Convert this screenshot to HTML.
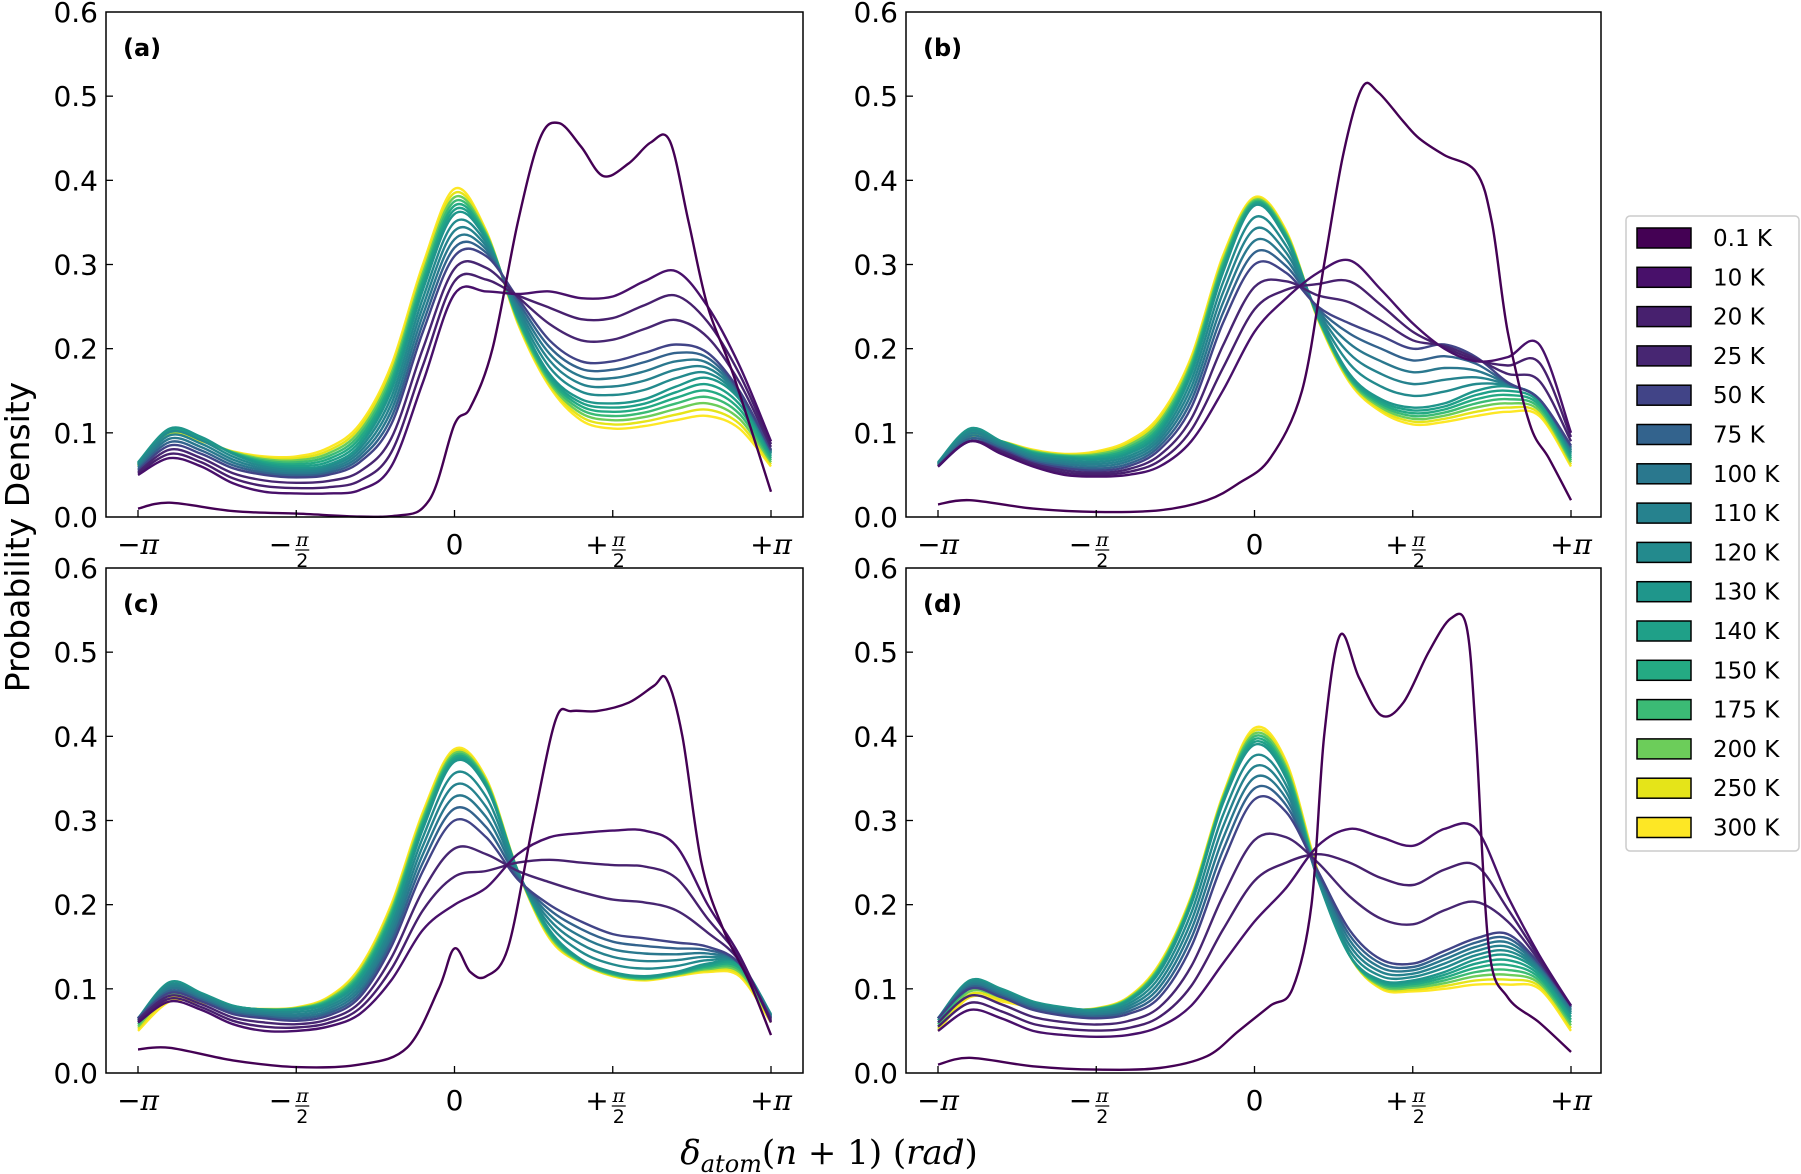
<!DOCTYPE html>
<html><head><meta charset="utf-8"><style>
html,body{margin:0;padding:0;background:#fff;}
svg{display:block;font-family:"DejaVu Sans","Liberation Sans",sans-serif;}
</style></head><body>
<svg id="s" width="1801" height="1174" viewBox="0 0 1801 1174" xmlns="http://www.w3.org/2000/svg">
<text x="0" y="0" transform="translate(29,537) rotate(-90)" font-size="33" text-anchor="middle">Probability Density</text>
<text x="829" y="1164" font-size="34" text-anchor="middle" font-family="DejaVu Serif, Liberation Serif, serif" font-style="italic">δ<tspan font-size="24" dy="8">atom</tspan><tspan dy="-8" font-style="normal">(</tspan>n<tspan font-style="normal"> + 1) (</tspan>rad<tspan font-style="normal">)</tspan></text>
<g id="legend">
<rect x="1626" y="216" width="173" height="635" rx="4" fill="#fff" stroke="#ccc" stroke-width="1.5"/>
</g>
</svg>
<script>
const NS="http://www.w3.org/2000/svg";
const svg=document.getElementById('s');
function el(t,a,p){const e=document.createElementNS(NS,t);for(const k in a)e.setAttribute(k,a[k]);(p||svg).appendChild(e);return e;}
const temps=["0.1 K","10 K","20 K","25 K","50 K","75 K","100 K","110 K","120 K","130 K","140 K","150 K","175 K","200 K","250 K","300 K"];
const cols=["#440154","#48106a","#47206e","#472672","#414487","#33638d","#2a788e","#26828e","#238a8d","#1f968b","#1fa088","#24aa83","#3bbb75","#6ccd5a","#e5e419","#fde725"];
const lg=document.getElementById('legend');
temps.forEach((t,i)=>{const y=228+i*39.3;
 el('rect',{x:1637,y:y,width:54,height:20,fill:cols[i],stroke:'#000','stroke-width':1.5},lg);
 const tx=el('text',{x:1713,y:y+18,'font-size':23},lg);tx.textContent=t;});
const panels=[
 {x0:106,x1:803,y0:12,y1:517,lab:"(a)",
  p01:[[-1,.01],[-.9,.017],[-.7,.007],[-.5,.004],[-.2,.001],[-.08,.02],[0,.11],[.05,.13],[.12,.2],[.2,.35],[.27,.45],[.33,.468],[.4,.44],[.47,.405],[.55,.42],[.62,.445],[.68,.447],[.74,.35],[.8,.25],[.88,.17],[1,.03]],
  A:[[.05,.07,.06,.04,.03,.028,.028,.032,.06,.16,.265,.268,.265,.268,.26,.262,.28,.292,.25,.18,.09],
     [.055,.085,.075,.058,.05,.047,.05,.065,.11,.22,.31,.31,.26,.21,.185,.185,.195,.205,.195,.15,.08],
     [.065,.105,.095,.075,.062,.058,.062,.085,.15,.27,.36,.33,.24,.17,.14,.135,.14,.155,.165,.14,.075],
     [.06,.098,.09,.078,.072,.072,.082,.11,.18,.3,.39,.34,.23,.155,.115,.105,.108,.115,.12,.105,.06]]},
 {x0:906,x1:1601,y0:12,y1:517,lab:"(b)",
  p01:[[-1,.015],[-.9,.02],[-.7,.01],[-.5,.006],[-.3,.008],[-.15,.02],[-.05,.04],[.05,.07],[.15,.15],[.22,.3],[.28,.43],[.34,.51],[.39,.505],[.47,.47],[.52,.45],[.6,.43],[.7,.41],[.75,.35],[.8,.22],[.87,.11],[.93,.07],[1,.02]],
  A:[[.06,.09,.075,.06,.05,.048,.05,.06,.09,.15,.22,.26,.29,.305,.27,.23,.2,.185,.19,.205,.1],
     [.06,.09,.08,.065,.058,.055,.06,.08,.13,.23,.3,.29,.25,.23,.215,.2,.205,.19,.16,.14,.085],
     [.065,.105,.09,.075,.07,.068,.075,.1,.17,.29,.37,.33,.24,.17,.14,.13,.135,.15,.155,.14,.075],
     [.06,.095,.09,.08,.075,.078,.09,.12,.19,.31,.38,.34,.235,.16,.125,.11,.113,.12,.125,.12,.06]]},
 {x0:106,x1:803,y0:568,y1:1073,lab:"(c)",
  p01:[[-1,.028],[-.9,.03],[-.7,.015],[-.5,.007],[-.3,.01],[-.15,.03],[-.05,.1],[0,.148],[.05,.12],[.1,.115],[.17,.15],[.25,.3],[.32,.42],[.37,.43],[.45,.43],[.55,.44],[.63,.46],[.67,.468],[.72,.4],[.78,.25],[.85,.17],[.93,.11],[1,.045]],
  A:[[.06,.085,.075,.058,.05,.05,.055,.07,.11,.17,.2,.22,.26,.28,.285,.288,.288,.27,.2,.14,.06],
     [.065,.095,.085,.07,.065,.062,.068,.09,.15,.24,.3,.28,.23,.2,.18,.165,.16,.155,.15,.13,.065],
     [.065,.108,.095,.08,.075,.075,.082,.11,.18,.29,.37,.34,.24,.17,.135,.12,.115,.12,.13,.13,.07],
     [.05,.085,.083,.078,.076,.078,.09,.125,.2,.31,.385,.35,.24,.16,.13,.115,.11,.115,.12,.115,.06]]},
 {x0:906,x1:1601,y0:568,y1:1073,lab:"(d)",
  p01:[[-1,.01],[-.9,.018],[-.7,.008],[-.5,.004],[-.3,.006],[-.15,.02],[-.05,.05],[.05,.08],[.12,.1],[.18,.2],[.22,.4],[.27,.52],[.33,.47],[.4,.425],[.47,.44],[.55,.5],[.62,.54],[.67,.53],[.7,.4],[.74,.15],[.8,.09],[.9,.06],[1,.025]],
  A:[[.05,.075,.065,.05,.045,.043,.045,.055,.08,.13,.18,.22,.27,.29,.28,.27,.29,.29,.21,.14,.08],
     [.065,.1,.09,.075,.068,.065,.07,.09,.15,.25,.325,.31,.24,.17,.135,.13,.145,.16,.165,.13,.08],
     [.065,.11,.1,.085,.078,.075,.085,.12,.2,.32,.39,.35,.23,.14,.11,.11,.12,.135,.14,.12,.07],
     [.05,.09,.085,.078,.075,.077,.09,.13,.21,.33,.41,.37,.24,.14,.1,.097,.1,.105,.105,.1,.05]]}
];
function catmull(pts){let d="M"+pts[0][0].toFixed(1)+","+pts[0][1].toFixed(1);
 for(let i=0;i<pts.length-1;i++){const p0=pts[Math.max(i-1,0)],p1=pts[i],p2=pts[i+1],p3=pts[Math.min(i+2,pts.length-1)];
  const c1=[p1[0]+(p2[0]-p0[0])/6,p1[1]+(p2[1]-p0[1])/6],c2=[p2[0]-(p3[0]-p1[0])/6,p2[1]-(p3[1]-p1[1])/6];
  d+="C"+c1[0].toFixed(1)+","+c1[1].toFixed(1)+" "+c2[0].toFixed(1)+","+c2[1].toFixed(1)+" "+p2[0].toFixed(1)+","+p2[1].toFixed(1);}
 return d;}
const anchorIdx=[0,3,8,14];
panels.forEach(P=>{
 const W=P.x1-P.x0,H=P.y1-P.y0;
 const xl=P.x0+(138-106), xr=P.x0+(771-106);
 const X=t=>xl+(t+1)/2*(xr-xl), Y=v=>P.y1-v/0.6*H;
 const g=el('g',{});
 const draw=(pts,c)=>el('path',{d:catmull(pts.map(p=>[X(p[0]),Y(p[1])])),fill:'none',stroke:c,'stroke-width':2.4,'stroke-linejoin':'round'},g);
 for(let k=14;k>=0;k--){let a=0;while(a<3&&k>anchorIdx[a+1])a++;
  const f=(k-anchorIdx[a])/(anchorIdx[a+1]-anchorIdx[a]);
  const pts=[];for(let i=0;i<=20;i++)pts.push([-1+0.1*i,P.A[a][i]*(1-f)+P.A[a+1][i]*f]);
  draw(pts,cols[k+1]);}
 draw(P.p01,cols[0]);
 el('rect',{x:P.x0,y:P.y0,width:W,height:H,fill:'none',stroke:'#000','stroke-width':1.5});
 for(let i=0;i<=6;i++){const y=Y(i/10);
  if(i>0&&i<6)el('line',{x1:P.x0,y1:y,x2:P.x0+7,y2:y,stroke:'#000','stroke-width':1.3});
  const t=el('text',{x:P.x0-8,y:y+10,'font-size':28,'text-anchor':'end'});t.textContent=(i/10).toFixed(1);}
 const xt=[[-1,"−"],[-.5,"−"],[0,""],[.5,"+"],[1,"+"]];
 xt.forEach(([t,s],j)=>{const x=X(t);
  el('line',{x1:x,y1:P.y1,x2:x,y2:P.y1-7,stroke:'#000','stroke-width':1.3});
  if(j==2){const e=el('text',{x:x,y:P.y1+37,'font-size':28,'text-anchor':'middle'});e.textContent="0";}
  else if(j==0||j==4){const e=el('text',{x:x,y:P.y1+37,'font-size':28,'text-anchor':'middle'});e.innerHTML=s+'<tspan font-style="italic" font-family="DejaVu Serif, serif">π</tspan>';}
  else{const e=el('text',{x:x-4,y:P.y1+37,'font-size':28,'text-anchor':'end'});e.textContent=s;
   const a=el('text',{x:x+6,y:P.y1+29,'font-size':19,'text-anchor':'middle','font-style':'italic','font-family':'DejaVu Serif, serif'});a.textContent="π";
   el('line',{x1:x-1,y1:P.y1+33,x2:x+13,y2:P.y1+33,stroke:'#000','stroke-width':1.2});
   const b=el('text',{x:x+6,y:P.y1+50,'font-size':19,'text-anchor':'middle'});b.textContent="2";}
 });
 const L=el('text',{x:P.x0+17,y:P.y0+44,'font-size':24,'font-weight':'bold'});L.textContent=P.lab;
});
</script>
</body></html>
